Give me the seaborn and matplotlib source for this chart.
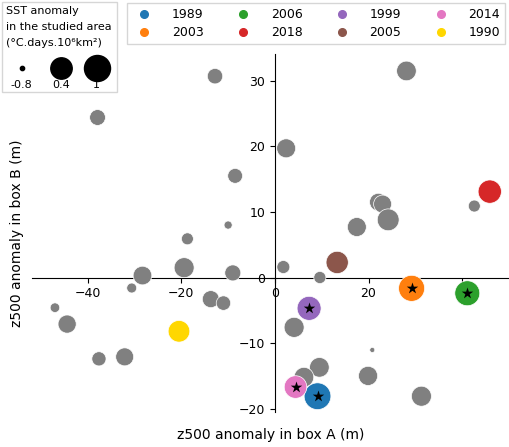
import numpy as np
import seaborn as sns
import matplotlib.pyplot as plt
from matplotlib.lines import Line2D

# grey points: other years
grey_x = [-12.8, -37.9, -8.5, -10.0, -18.7, -19.4, -28.3, -9.0, -30.6, -13.7,
          -11.0, -47.0, -44.4, -37.6, -32.1, 4.1, 9.5, 6.2, 20.8, 19.9,
          31.3, 28.1, 2.4, 42.6, 22.1, 23.0, 24.2, 17.5, 1.8, 9.6]
grey_y = [30.7, 24.4, 15.5, 8.0, 5.9, 1.5, 0.3, 0.7, -1.6, -3.3,
          -3.9, -4.6, -7.1, -12.4, -12.1, -7.6, -13.7, -15.2, -11.05, -15.0,
          -18.1, 31.5, 19.7, 10.9, 11.5, 11.2, 8.8, 7.7, 1.6, 0.0]
grey_sst = [-0.2, -0.17, -0.25, -0.67, -0.46, 0.24, 0.1, -0.15, -0.58, -0.06,
            -0.28, -0.6, 0.05, -0.3, 0.03, 0.24, 0.2, 0.2, -0.78, 0.15,
            0.24, 0.2, 0.13, -0.46, 0.0, 0.03, 0.45, 0.13, -0.39, -0.45]

# highlighted years
years = ["1989", "2003", "2006", "2018", "1999", "2005", "2014", "1990"]
year_x = [9.1, 29.2, 41.1, 45.9, 7.3, 13.3, 4.4, -20.5]
year_y = [-18.1, -1.65, -2.4, 13.1, -4.7, 2.3, -16.7, -8.2]
year_sst = [1.1, 1.0, 0.85, 0.63, 0.72, 0.5, 0.54, 0.43]
year_colors = ["tab:blue", "tab:orange", "tab:green", "tab:red",
               "tab:purple", "tab:brown", "tab:pink", "gold"]
star_years = ["1989", "2003", "2006", "1999", "2014"]

# size legend
size_vals = [-0.8, 0.4, 1]
size_labels = ["-0.8", "0.4", "1"]

sizes = (0, 446.5)
size_norm = (-0.85, 1.5)


def sst_to_s(v):
    return sizes[0] + (v - size_norm[0]) / (size_norm[1] - size_norm[0]) * (sizes[1] - sizes[0])


fig = plt.figure(figsize=(5.09, 4.47), dpi=100)
ax = fig.add_axes([0.0629, 0.079, 0.937, 0.800])

sns.scatterplot(x=grey_x, y=grey_y, size=grey_sst, sizes=sizes, size_norm=size_norm,
                color="grey", linewidth=0.5, legend=False, ax=ax, zorder=3)
sns.scatterplot(x=year_x, y=year_y, hue=years, palette=dict(zip(years, year_colors)),
                size=year_sst, sizes=sizes, size_norm=size_norm,
                linewidth=0.5, legend=False, ax=ax, zorder=3)

star_x = [x for x, yr in zip(year_x, years) if yr in star_years]
star_y = [y for y, yr in zip(year_y, years) if yr in star_years]
sns.scatterplot(x=star_x, y=star_y, marker="*", color="k", s=75, linewidth=0,
                legend=False, ax=ax, zorder=4)

ax.set_xlim(-51.9, 50.0)
ax.set_ylim(-20.46, 34.07)
ax.spines["left"].set_position("zero")
ax.spines["bottom"].set_position("zero")
ax.spines["top"].set_visible(False)
ax.spines["right"].set_visible(False)
ax.set_xticks([-40, -20, 0, 20, 40])
ax.set_yticks([-20, -10, 0, 10, 20, 30])
ax.tick_params(labelsize=9)

ax.set_xlabel("z500 anomaly in box A (m)", fontsize=10)
ax.set_ylabel("z500 anomaly in box B (m)", fontsize=10)
ax.xaxis.set_label_coords(0.5, -0.046)
ax.yaxis.set_label_coords(-0.017, 0.5)

# year legend
year_handles = [Line2D([], [], ls="none", marker="o", markersize=5.5, color=c)
                for c in year_colors]
fig.legend(year_handles, years, ncol=4, loc="upper right",
           bbox_to_anchor=(0.992, 0.993), borderaxespad=0, fontsize=9,
           handletextpad=1.2, columnspacing=2.16, labelspacing=0.4,
           fancybox=False)

# size legend, labels moved under the markers afterwards
size_handles = [Line2D([], [], ls="none", marker="o", color="k",
                       markersize=np.sqrt(sst_to_s(v))) for v in size_vals]
leg = fig.legend(size_handles, size_labels, ncol=3, loc="upper left",
                 bbox_to_anchor=(0.004, 0.996), borderaxespad=0, fontsize=8,
                 title="SST anomaly\nin the studied area\n(°C.days.10⁶km²)",
                 title_fontsize=8, alignment="left", borderpad=0.4,
                 handlelength=2.75, handletextpad=-2.75, handleheight=3.5,
                 columnspacing=1.6, labelspacing=1.0, fancybox=False)
leg.get_title().set_linespacing(1.75)

fig.canvas.draw()
r = fig.canvas.get_renderer()
for h, t in zip(leg.legend_handles, leg.get_texts()):
    mb = h.get_window_extent(r)
    tb = t.get_window_extent(r)
    t.set_position(((mb.x0 + mb.x1) / 2 - (tb.x0 + tb.x1) / 2,
                    (mb.y0 + mb.y1) / 2 - 17.5 - (tb.y0 + tb.y1) / 2))

fig.savefig("out.png", dpi=100)
